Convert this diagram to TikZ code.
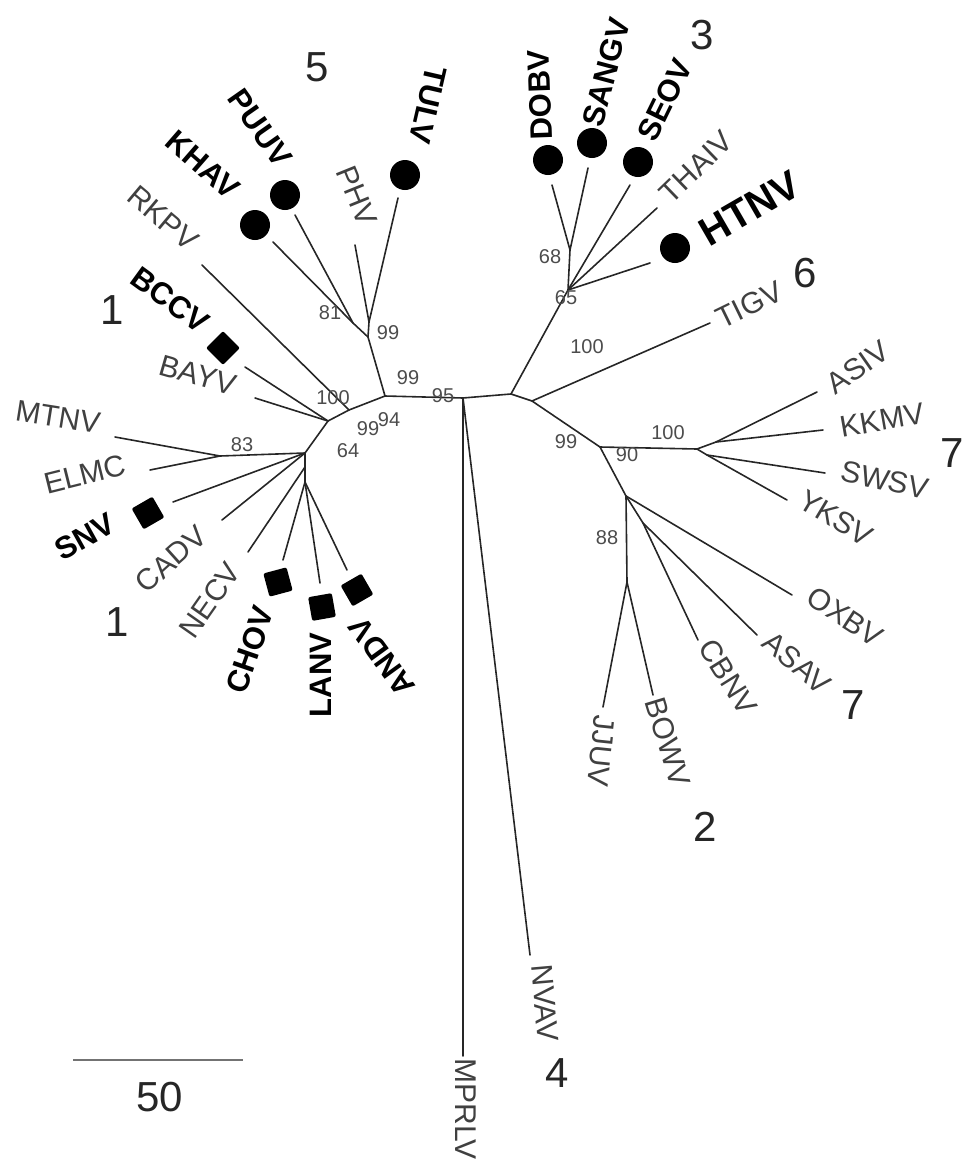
\documentclass[tikz,border=0pt]{standalone}
\usepackage{fontspec}
\setmainfont{Liberation Sans}

\tikzset{
  branch/.style={line width=0.8pt, black!85, line cap=round},
  taxon/.style={font=\fontsize{15}{15}\selectfont, text=black!75, inner sep=0pt},
  hosttaxon/.style={font=\fontsize{15.5}{16}\selectfont\bfseries, inner sep=0pt},
  boot/.style={font=\fontsize{10}{10}\selectfont, text=black!70, inner sep=0pt},
  clade/.style={font=\fontsize{21}{21}\selectfont, text=black!85, inner sep=0pt},
  dotsym/.style={circle, fill=black, minimum size=15pt, inner sep=0pt},
  boxsym/.style={rectangle, fill=black, minimum size=12pt, inner sep=0pt, rounded corners=1pt},
}

\begin{document}
\begin{tikzpicture}[x=0.5pt, y=-0.5pt]

    \useasboundingbox (0,0) rectangle (963,1162);

    % Internal nodes of the backbone
    \coordinate (A) at (385,396);
    \coordinate (M) at (463,398);
    \coordinate (R) at (511,394);
    \coordinate (K) at (349,410);
    \coordinate (L1) at (328,421);
    \coordinate (L2) at (305,453);
    \coordinate (L4) at (305,467);
    \coordinate (L3) at (305,482);

    % Internal nodes, upper left clade
    \coordinate (U1) at (368,337);
    \coordinate (UT) at (369,322);
    \coordinate (N81) at (353,323);
    \coordinate (N83) at (220,456);

    % Internal nodes, right clades
    \coordinate (T1) at (532,401);
    \coordinate (H65) at (568,290);
    \coordinate (H68) at (570,250);
    \coordinate (N90) at (600,447);
    \coordinate (N100) at (697,449);
    \coordinate (NA) at (716,442);
    \coordinate (NS) at (707,455);
    \coordinate (N88) at (626,496);
    \coordinate (NJ) at (627,582);
    \coordinate (NC) at (643,523);

    % Branch tips
    \coordinate (tKHAV) at (273,242);
    \coordinate (tPUUV) at (295,215);
    \coordinate (tPHV) at (355,245);
    \coordinate (tTULV) at (398,198);
    \coordinate (tRKPV) at (202,265);
    \coordinate (tBCCV) at (245,367);
    \coordinate (tBAYV) at (255,398);
    \coordinate (tMTNV) at (115,437);
    \coordinate (tELMC) at (150,470);
    \coordinate (tSNV) at (173,502);
    \coordinate (tCADV) at (222,520);
    \coordinate (tNECV) at (248,552);
    \coordinate (tCHOV) at (283,560);
    \coordinate (tLANV) at (320,583);
    \coordinate (tANDV) at (347,570);
    \coordinate (tMPRLV) at (463,1056);
    \coordinate (tNVAV) at (530,955);
    \coordinate (tDOBV) at (552,185);
    \coordinate (tSANGV) at (588,168);
    \coordinate (tSEOV) at (630,185);
    \coordinate (tTHAIV) at (657,208);
    \coordinate (tHTNV) at (650,263);
    \coordinate (tTIGV) at (710,323);
    \coordinate (tASIV) at (817,392);
    \coordinate (tKKMV) at (823,430);
    \coordinate (tSWSV) at (825,473);
    \coordinate (tYKSV) at (787,500);
    \coordinate (tOXBV) at (792,595);
    \coordinate (tASAV) at (757,635);
    \coordinate (tCBNV) at (698,640);
    \coordinate (tJJUV) at (603,707);
    \coordinate (tBOWV) at (653,695);

    % Draw the backbone
    \draw[branch] (L2) -- (L1) -- (K) -- (A) -- (M) -- (R);
    \draw[branch] (L2) -- (L4) -- (L3);

    % Draw the upper left branches
    \draw[branch] (A) -- (U1) -- (N81) -- (tKHAV);
    \draw[branch] (N81) -- (tPUUV);
    \draw[branch] (U1) -- (UT) -- (tPHV);
    \draw[branch] (UT) -- (tTULV);
    \draw[branch] (K) -- (tRKPV);
    \draw[branch] (L1) -- (tBCCV);
    \draw[branch] (L1) -- (tBAYV);

    % Draw the lower left branches
    \draw[branch] (L2) -- (N83) -- (tMTNV);
    \draw[branch] (N83) -- (tELMC);
    \draw[branch] (L2) -- (tSNV);
    \draw[branch] (L2) -- (tCADV);
    \draw[branch] (L4) -- (tNECV);
    \draw[branch] (L3) -- (tCHOV);
    \draw[branch] (L3) -- (tLANV);
    \draw[branch] (L3) -- (tANDV);

    % Draw the two long branches
    \draw[branch] (M) -- (tMPRLV);
    \draw[branch] (M) -- (tNVAV);

    % Draw the upper right branches
    \draw[branch] (R) -- (H65) -- (H68) -- (tDOBV);
    \draw[branch] (H68) -- (tSANGV);
    \draw[branch] (H65) -- (tSEOV);
    \draw[branch] (H65) -- (tTHAIV);
    \draw[branch] (H65) -- (tHTNV);
    \draw[branch] (R) -- (T1) -- (tTIGV);

    % Draw the lower right branches
    \draw[branch] (T1) -- (N90) -- (N100);
    \draw[branch] (N100) -- (NA) -- (tASIV);
    \draw[branch] (NA) -- (tKKMV);
    \draw[branch] (N100) -- (NS) -- (tSWSV);
    \draw[branch] (NS) -- (tYKSV);
    \draw[branch] (N90) -- (N88) -- (tOXBV);
    \draw[branch] (N88) -- (NC) -- (tASAV);
    \draw[branch] (NC) -- (tCBNV);
    \draw[branch] (N88) -- (NJ) -- (tJJUV);
    \draw[branch] (NJ) -- (tBOWV);

    % Taxon labels
    \node[taxon, rotate=-9] (lMTNV) at (58,417) {MTNV};
    \node[taxon, rotate=14] (lELMC) at (85,474) {ELMC};
    \node[hosttaxon, rotate=29] (lSNV) at (85,537) {SNV};
    \node[taxon, rotate=42] (lCADV) at (171,559) {CADV};
    \node[taxon, rotate=55] (lNECV) at (210,600) {NECV};
    \node[hosttaxon, rotate=71] (lCHOV) at (250,650) {CHOV};
    \node[hosttaxon, rotate=90] (lLANV) at (321,675) {LANV};
    \node[hosttaxon, rotate=126] (lANDV) at (382,657) {ANDV};
    \node[taxon, rotate=-16] (lBAYV) at (198,375) {BAYV};
    \node[hosttaxon, rotate=-36] (lBCCV) at (170,300) {BCCV};
    \node[taxon, rotate=-40] (lRKPV) at (163,218) {RKPV};
    \node[hosttaxon, rotate=-41] (lKHAV) at (203,165) {KHAV};
    \node[hosttaxon, rotate=-55] (lPUUV) at (260,128) {PUUV};
    \node[taxon, rotate=-68] (lPHV) at (357,196) {PHV};
    \node[hosttaxon, rotate=-103] (lTULV) at (428,105) {TULV};
    \node[hosttaxon, rotate=92] (lDOBV) at (540,95) {DOBV};
    \node[hosttaxon, rotate=75] (lSANGV) at (606,72) {SANGV};
    \node[hosttaxon, rotate=64] (lSEOV) at (665,100) {SEOV};
    \node[taxon, rotate=44] (lTHAIV) at (696,167) {THAIV};
    \node[hosttaxon, font=\fontsize{20}{20}\selectfont\bfseries, rotate=30] (lHTNV) at (750,208) {HTNV};
    \node[taxon, rotate=26] (lTIGV) at (749,305) {TIGV};
    \node[taxon, rotate=35] (lASIV) at (858,367) {ASIV};
    \node[taxon, rotate=10] (lKKMV) at (882,420) {KKMV};
    \node[taxon, rotate=-12] (lSWSV) at (885,480) {SWSV};
    \node[taxon, rotate=-31] (lYKSV) at (836,518) {YKSV};
    \node[taxon, rotate=-33] (lOXBV) at (845,617) {OXBV};
    \node[taxon, rotate=-40] (lASAV) at (797,663) {ASAV};
    \node[taxon, rotate=-58] (lCBNV) at (728,677) {CBNV};
    \node[taxon, rotate=-73] (lBOWV) at (668,742) {BOWV};
    \node[taxon, rotate=-96] (lJJUV) at (601,751) {JJUV};
    \node[taxon, rotate=-85] (lNVAV) at (545,1003) {NVAV};
    \node[taxon, rotate=-90] (lMPRLV) at (466,1109) {MPRLV};

    % Host symbols
    \node[dotsym] (sKHAV) at (255,225) {};
    \node[dotsym] (sPUUV) at (285,195) {};
    \node[dotsym] (sTULV) at (405,175) {};
    \node[dotsym] (sDOBV) at (548,160) {};
    \node[dotsym] (sSANGV) at (592,143) {};
    \node[dotsym] (sSEOV) at (638,162) {};
    \node[dotsym] (sHTNV) at (675,248) {};
    \node[boxsym, rotate=45] (sBCCV) at (223,348) {};
    \node[boxsym, rotate=30] (sSNV) at (148,513) {};
    \node[boxsym, rotate=15] (sCHOV) at (278,582) {};
    \node[boxsym, rotate=10] (sLANV) at (322,607) {};
    \node[boxsym, rotate=30] (sANDV) at (357,590) {};

    % Bootstrap values
    \node[boot] (b81) at (330,313) {81};
    \node[boot] (b99t) at (388,333) {99};
    \node[boot] (b99a) at (408,378) {99};
    \node[boot] (b100k) at (333,398) {100};
    \node[boot] (b94) at (389,420) {94};
    \node[boot] (b99l) at (368,429) {99};
    \node[boot] (b64) at (348,451) {64};
    \node[boot] (b83) at (242,445) {83};
    \node[boot] (b95) at (443,396) {95};
    \node[boot] (b68) at (550,257) {68};
    \node[boot] (b65) at (566,298) {65};
    \node[boot] (b100t) at (587,347) {100};
    \node[boot] (b99r) at (566,442) {99};
    \node[boot] (b90) at (627,455) {90};
    \node[boot] (b100s) at (668,433) {100};
    \node[boot] (b88) at (607,538) {88};

    % Clade numbers
    \node[clade] (c5) at (317,67) {5};
    \node[clade] (c3) at (702,35) {3};
    \node[clade] (c6) at (805,273) {6};
    \node[clade] (c1a) at (112,310) {1};
    \node[clade] (c1b) at (117,622) {1};
    \node[clade] (c7a) at (952,453) {7};
    \node[clade] (c7b) at (853,705) {7};
    \node[clade] (c2) at (705,827) {2};
    \node[clade] (c4) at (557,1073) {4};

    % Draw the scale bar
    \coordinate (sb1) at (73,1060);
    \coordinate (sb2) at (243,1060);
    \draw[line width=0.8pt, black!55] (sb1) -- (sb2);
    \node[clade] (sbl) at (160,1097) {50};

\end{tikzpicture}
\end{document}
